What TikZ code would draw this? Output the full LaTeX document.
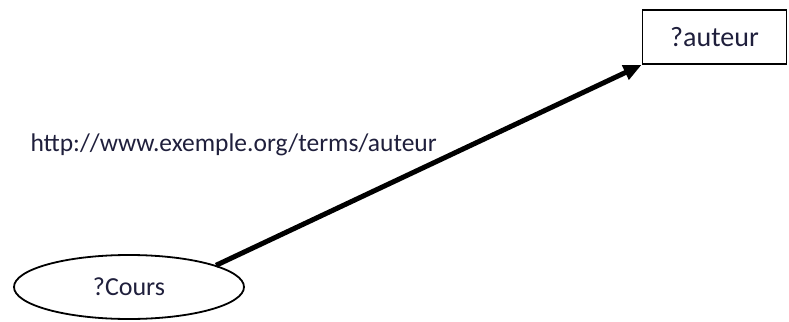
\documentclass[tikz,border=0pt]{standalone}
\usepackage{fontspec}
\setmainfont{Carlito}
\usetikzlibrary{arrows.meta,shapes.geometric,positioning}
\definecolor{labelblue}{RGB}{31,31,60}

\begin{document}
\begin{tikzpicture}[x=1pt,y=-1pt,
  varnode/.style={font=\fontsize{26}{30}\selectfont, text=labelblue, line width=1.8pt},
  cours/.style={varnode, draw, ellipse, minimum width=230pt, minimum height=64pt, inner sep=0pt},
  litbox/.style={varnode, draw, rectangle, minimum width=144pt, minimum height=54pt, inner sep=0pt}]
\useasboundingbox (0,0) rectangle (789,321);
% subject and object
\node[cours] (coursvar) at (129,287) {?Cours};
\node[litbox, font=\fontsize{28}{32}\selectfont] (auteurvar) at (714.5,37) {?auteur};
% predicate
\draw[line width=5pt, -{Triangle[length=18pt,width=15pt]}] (coursvar.14) -- (auteurvar.south west);
\node[font=\fontsize{25.5}{30}\selectfont, text=labelblue, anchor=west] (pred) at (27,145) {http://www.exemple.org/terms/auteur};
\end{tikzpicture}
\end{document}
